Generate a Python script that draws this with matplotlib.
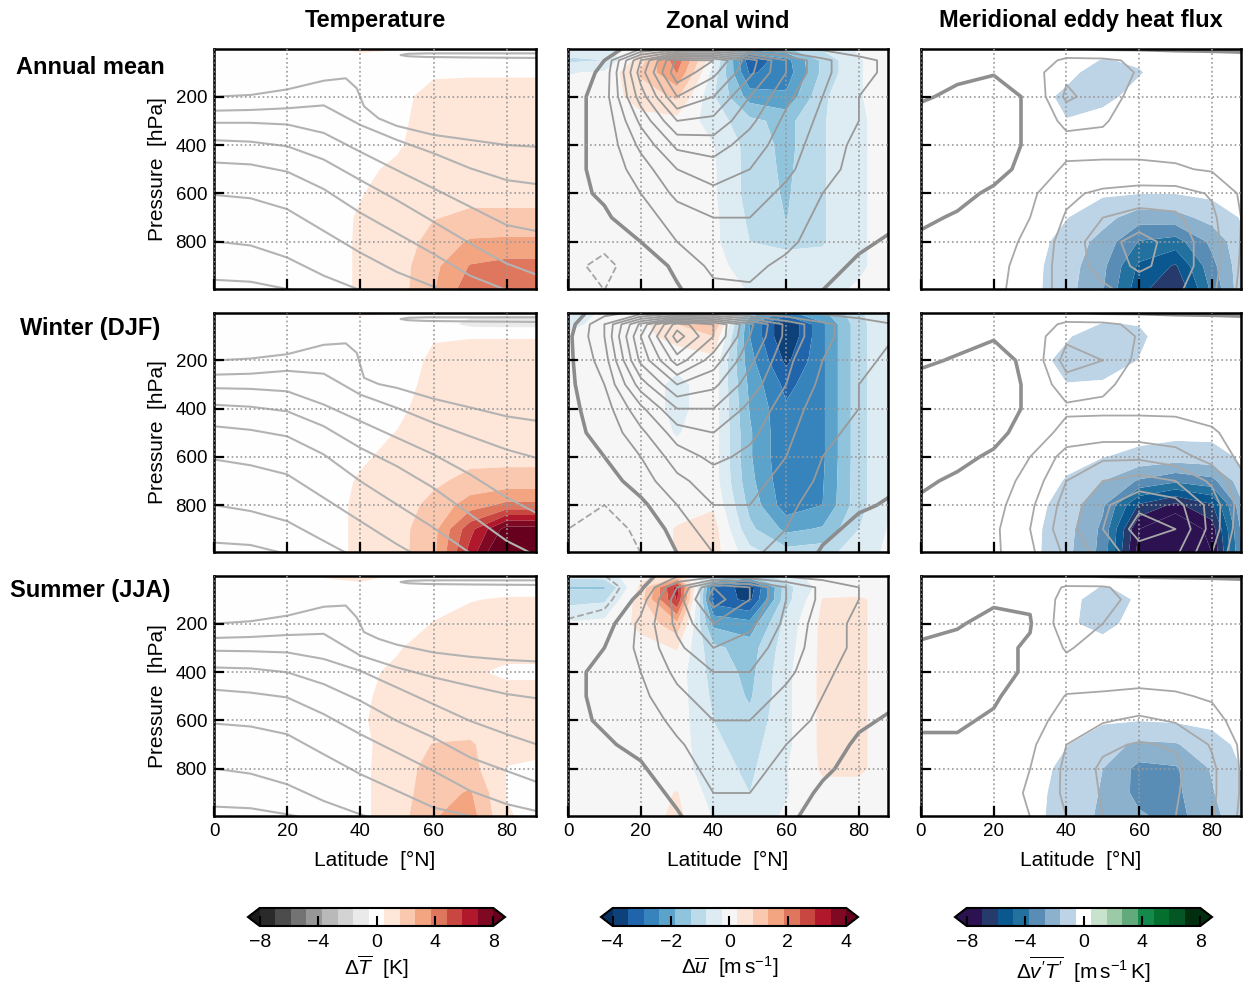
import matplotlib
matplotlib.use("Agg")
import matplotlib.pyplot as plt
import numpy as np
from matplotlib.colors import ListedColormap

plt.rcParams['font.family'] = ['Liberation Sans', 'DejaVu Sans']
plt.rcParams['mathtext.fontset'] = 'custom'
plt.rcParams['mathtext.rm'] = 'Liberation Sans'
plt.rcParams['mathtext.it'] = 'Liberation Sans:italic'

# grid the fields are read on
lat = [0, 10, 20, 30, 40, 50, 60, 70, 80, 90]
plev = [0, 50, 100, 200, 300, 400, 500, 600, 700, 800, 900, 1000]

# ---- temperature anomaly [K] (rows = plev, cols = lat)
T_ANN = [
    [0, 0, 0, 0.3, 0.8, 0.6, 0.2, 0.1, 0.1, 0.1],
    [0, 0, 0, 0, 0.1, 0.2, 0.3, 0.3, 0.3, 0.3],
    [0, 0, 0, 0, 0.1, 0.3, 0.45, 0.45, 0.45, 0.45],
    [0, 0, 0, 0.1, 0.2, 0.35, 0.75, 0.85, 0.85, 0.85],
    [0, 0, 0, 0.1, 0.25, 0.4, 0.8, 0.9, 0.9, 0.9],
    [0, 0, 0, 0.15, 0.3, 0.45, 0.9, 1.0, 1.0, 1.0],
    [0, 0, 0.05, 0.2, 0.4, 0.65, 1.0, 1.1, 1.1, 1.1],
    [0, 0, 0.05, 0.2, 0.5, 0.8, 1.2, 1.3, 1.3, 1.3],
    [0, 0, 0.05, 0.25, 0.6, 0.9, 1.55, 1.8, 1.8, 1.8],
    [0, 0, 0.1, 0.3, 0.6, 1.0, 2.0, 2.8, 2.9, 2.9],
    [0, 0, 0.1, 0.3, 0.6, 1.1, 2.4, 3.8, 4.1, 4.1],
    [0, 0, 0.1, 0.3, 0.6, 1.1, 2.6, 4.4, 4.9, 4.7],
]
T_DJF = [
    [0, 0, 0, 0.2, 0.7, 0.6, 0.1, -0.3, -0.4, -0.4],
    [0, 0, 0, 0, 0.1, 0.1, 0, -0.8, -0.9, -0.9],
    [0, 0, 0, 0, 0.1, 0.25, 0.5, 0.5, 0.5, 0.5],
    [0, 0, 0, 0.1, 0.2, 0.3, 0.62, 0.8, 0.8, 0.8],
    [0, 0, 0, 0.1, 0.2, 0.35, 0.68, 0.85, 0.85, 0.85],
    [0, 0, 0, 0.1, 0.25, 0.4, 0.8, 0.95, 0.95, 0.95],
    [0, 0, 0, 0.15, 0.35, 0.55, 0.9, 1.05, 1.05, 1.05],
    [0, 0, 0.05, 0.2, 0.45, 0.7, 1.05, 1.3, 1.3, 1.3],
    [0, 0, 0.05, 0.25, 0.6, 0.9, 1.4, 1.9, 2.0, 2.0],
    [0, 0, 0.1, 0.3, 0.65, 1.1, 1.9, 3.2, 4.0, 4.0],
    [0, 0, 0.1, 0.3, 0.65, 1.2, 2.3, 5.5, 8.5, 8.5],
    [0, 0, 0.1, 0.3, 0.65, 1.2, 2.4, 6.3, 10, 10],
]
T_JJA = [
    [0, 0, 0, 0.6, 0.7, 0.5, 0.1, 0, 0, 0],
    [0, 0, 0, 0.3, 0.4, 0.2, 0.1, 0.2, 0.3, 0.3],
    [0, 0, 0, 0.1, 0.1, 0.2, 0.4, 0.5, 0.6, 0.6],
    [0, 0, 0, 0.1, 0.2, 0.35, 0.55, 0.75, 0.8, 0.8],
    [0, 0, 0, 0.15, 0.3, 0.5, 0.7, 0.8, 0.7, 0.7],
    [0, 0, 0, 0.2, 0.45, 0.6, 0.75, 0.6, 0.45, 0.45],
    [0, 0, 0.05, 0.25, 0.45, 0.7, 0.8, 0.8, 0.7, 0.7],
    [0, 0, 0.05, 0.25, 0.45, 0.85, 1.0, 1.0, 0.8, 0.8],
    [0, 0, 0.05, 0.25, 0.3, 1.0, 1.65, 1.75, 0.8, 0.7],
    [0, 0, 0.05, 0.25, 0.3, 1.1, 2.0, 2.0, 0.5, 0.4],
    [0, 0, 0.05, 0.25, 0.3, 1.1, 2.2, 2.8, 0.5, 0.3],
    [0, 0, 0.05, 0.25, 0.3, 1.1, 2.6, 3.2, 0.6, 0.3],
]

# ---- climatological temperature contours, pressure read along latitude
tl_lat = [0, 10, 20, 30, 40, 50, 60, 70, 80, 88]
kink_lat = [0, 10, 20, 30, 36, 39, 41, 45, 50, 60, 70, 80, 88]
loop_lat = [88, 70, 58, 53, 51, 53, 58, 70, 88]
loop_p = [21, 21, 21, 23, 28, 33, 36, 38, 40]

TL_ANN_TOP = [200, 193, 170, 134, 124, 165, 240, 290, 321, 358, 379, 400, 407]
TL_ANN = [
    [258, 255, 248, 236, 317, 379, 434, 496, 545, 561],
    [308, 308, 315, 350, 428, 504, 579, 655, 731, 755],
    [380, 386, 405, 460, 545, 628, 717, 807, 890, 935],
    [472, 480, 510, 582, 680, 765, 850, 940, 1000, 1030],
    [606, 620, 665, 755, 845, 925, 985, 1040, 1100, 1150],
    [798, 815, 865, 940, 1000, 1050, 1100, 1150, 1200, 1250],
    [957, 965, 995, 1030, 1070, 1110, 1150, 1190, 1230, 1270],
]
TL_DJF_TOP = [200, 192, 174, 135, 129, 168, 272, 298, 314, 359, 395, 432, 450]
TL_DJF = [
    [259, 255, 243, 255, 342, 397, 459, 515, 570, 604],
    [315, 318, 328, 383, 452, 521, 590, 673, 769, 832],
    [384, 392, 411, 473, 563, 639, 729, 839, 949, 1010],
    [473, 488, 515, 590, 701, 798, 894, 1000, 1080, 1150],
    [611, 635, 673, 770, 867, 963, 1050, 1130, 1200, 1260],
    [800, 825, 867, 949, 1030, 1100, 1160, 1220, 1280, 1330],
    [956, 966, 1004, 1050, 1090, 1130, 1170, 1210, 1250, 1290],
]
TL_JJA_TOP = [200, 190, 167, 130, 125, 174, 235, 263, 287, 319, 337, 350, 356]
TL_JJA = [
    [259, 255, 247, 242, 332, 381, 422, 457, 491, 508],
    [312, 314, 319, 346, 395, 464, 533, 602, 657, 698],
    [381, 385, 401, 450, 519, 602, 671, 753, 809, 853],
    [473, 485, 505, 574, 657, 733, 809, 891, 946, 974],
    [613, 625, 657, 740, 822, 891, 960, 995, 1040, 1080],
    [799, 820, 864, 933, 988, 1040, 1090, 1140, 1190, 1240],
    [956, 963, 988, 1020, 1060, 1100, 1140, 1180, 1220, 1260],
]

# ---- zonal wind anomaly [m/s]
U_ANN = [
    [-0.5, -0.4, 0.1, 0.4, -0.3, -1.6, -1.4, -0.7, -0.2, 0],
    [-0.9, -0.8, 0.6, 2.2, -0.2, -3.3, -2.6, -1.2, -0.3, 0],
    [-0.3, -0.2, 0.9, 1.9, -0.5, -3.0, -2.7, -1.2, -0.3, 0],
    [0, 0, 0.5, 0.9, -0.75, -2.1, -2.3, -0.9, -0.3, 0],
    [0, 0, 0.1, 0.1, -0.5, -1.2, -1.5, -0.85, -0.35, 0],
    [0, 0, 0, 0, -0.25, -1.0, -1.5, -0.85, -0.35, 0],
    [0, 0, 0, 0, -0.2, -1.0, -1.45, -0.85, -0.35, 0],
    [0, 0, 0, 0, -0.2, -1.0, -1.4, -0.85, -0.35, 0],
    [0, 0, 0, 0, -0.15, -0.9, -1.35, -0.85, -0.35, 0],
    [0, 0, 0, 0, -0.15, -0.8, -0.9, -0.85, -0.35, 0],
    [0, 0, 0, 0, -0.1, -0.5, -0.6, -0.6, -0.35, 0],
    [0, 0, 0, 0, 0, -0.3, -0.4, -0.4, -0.2, 0],
]
U_DJF = [
    [-0.5, -0.2, 0, 0.1, 0.2, -1.5, -2.5, -2.0, -0.9, -0.2],
    [-0.4, -0.1, 0.1, 0.8, 1.4, -2.4, -4.0, -2.5, -1.0, -0.1],
    [-0.2, 0, 0.1, 0.5, 0.8, -2.4, -4.0, -2.5, -1.0, -0.1],
    [0, 0, 0, -0.1, 0.1, -2.2, -3.6, -2.5, -1.0, -0.1],
    [0, 0, 0, -0.4, 0, -2.0, -3.1, -2.5, -1.0, -0.1],
    [0, 0, 0, -0.4, 0, -1.9, -2.85, -2.5, -1.0, -0.1],
    [0, 0, 0, -0.3, 0, -1.8, -2.85, -2.5, -1.0, -0.1],
    [0, 0, 0, -0.1, 0, -1.8, -2.85, -2.5, -1.0, -0.1],
    [0, 0, 0, 0, 0, -1.7, -2.8, -2.45, -1.0, -0.1],
    [0, 0, 0, 0.1, 0.2, -1.5, -2.7, -2.4, -1.0, -0.1],
    [0, 0, 0, 0.3, 0.5, -1.2, -2.0, -1.8, -0.8, -0.1],
    [0, 0, 0, 0.3, 0.5, -0.6, -1.1, -1.0, -0.5, -0.1],
]
U_JJA = [
    [-0.6, -0.5, 0.1, 0.5, -0.6, -1.2, -0.5, 0, 0, 0],
    [-1.4, -1.4, 0.4, 3.2, -3.0, -3.8, -1.0, 0, 0, 0],
    [-1.0, -0.9, 0.6, 3.0, -3.2, -3.6, -1.0, 0.3, 0.35, 0],
    [-0.2, -0.1, 0.4, 1.2, -2.0, -2.2, -0.6, 0.4, 0.35, 0],
    [0, 0, 0.1, 0.3, -1.2, -1.6, -0.5, 0.4, 0.35, 0],
    [0, 0, 0, 0, -1.0, -1.5, -0.4, 0.4, 0.35, 0],
    [0, 0, 0, 0, -0.9, -1.4, -0.4, 0.4, 0.35, 0],
    [0, 0, 0, 0, -0.8, -1.2, -0.4, 0.4, 0.35, 0],
    [0, 0, 0, 0, -0.7, -1.0, -0.4, 0.4, 0.35, 0],
    [0, 0, 0, 0, -0.6, -0.9, -0.3, 0.35, 0.35, 0],
    [0, 0, 0, 0.3, -0.5, -0.8, -0.3, 0.1, 0.1, 0],
    [0, 0, 0, 0.4, -0.3, -0.5, -0.2, 0, 0, 0],
]

# ---- climatological zonal wind [m/s]
UC_ANN = [
    [-5, -3, 3, 8, 8, 6, 4, 3, 2, 2],
    [-4, 0, 20, 37, 36, 26, 16, 9, 5, 3],
    [-3, 1, 22, 39, 33, 25, 16, 9, 5, 3],
    [-2, 2, 18, 32, 28, 20, 13, 8, 4, 3],
    [-1, 1, 13, 24, 23, 17, 11, 7, 4, 2],
    [-1, 1, 9, 17, 18, 14, 10, 6, 3, 2],
    [-1, 1, 6, 12, 14, 12, 9, 5, 3, 1],
    [-1, 0.5, 4, 9, 11, 10, 7, 4, 2, 1],
    [-2, -0.5, 2, 6, 8, 8, 6, 3, 1, 0.5],
    [-3, -4, 0, 4, 7, 7, 5, 2, 0.5, -0.5],
    [-4, -6, -3, 1, 5, 5, 3, 1, -0.5, -1],
    [-4, -5, -4, -0.5, 3, 3.5, 2, 0, -1, -1],
]
UC_DJF = [
    [-2, 2, 5, 8, 8, 6, 4, 3, 2, 2],
    [-2, 8, 25, 42, 36, 25, 15, 9, 6, 4],
    [-1, 8, 28, 46, 36, 24, 15, 9, 6, 4],
    [-1, 6, 25, 38, 30, 21, 13, 8, 5, 3],
    [-1, 4, 18, 28, 25, 18, 12, 7, 4, 3],
    [-1, 2, 11, 20, 20, 15, 10, 6, 4, 2],
    [-1, 1, 7, 14, 16, 13, 9, 5, 3, 2],
    [-2, 0, 4, 10, 13, 11, 8, 4, 2, 1],
    [-3, -2, 2, 7, 10, 9, 7, 3, 1, 0.5],
    [-4, -5, -1, 4, 8, 8, 5, 2, 0.5, -0.5],
    [-5, -7, -4, 2, 6, 6, 4, 1, -1, -1],
    [-5, -7, -5, 0, 4, 4.5, 3, -0.5, -1.5, -1.5],
]
UC_JJA = [
    [-6, -5, -2, 3, 5, 4, 3, 2, 1, 1],
    [-10, -8, -1, 12, 24, 20, 12, 7, 4, 3],
    [-9, -7, 2, 14, 26, 20, 12, 7, 4, 3],
    [-4, -2, 5, 13, 20, 17, 11, 6, 3, 2],
    [-2, 0, 5, 11, 16, 14, 10, 6, 3, 2],
    [-1, 1, 4, 9, 12, 12, 9, 5, 2, 1],
    [-1, 1, 3, 7, 10, 10, 7, 4, 1.5, 0.5],
    [-1, 0.5, 2, 5, 8, 8, 6, 3, 0.5, -0.5],
    [-2, -0.5, 1, 3.5, 6, 6.5, 4, 1.5, -0.5, -1],
    [-2, -2, -0.5, 2.5, 5, 5, 3, 0.5, -1, -1],
    [-2, -3, -2, 1, 4, 4, 1.5, -0.5, -1, -1],
    [-2, -3, -2.5, -0.5, 3, 3, 0.5, -1, -1, -1],
]

# ---- eddy heat flux anomaly [m/s K]
VT_ANN = [
    [0, 0, 0, 0, 0, 0, 0, 0, 0, 0],
    [0, 0, 0, 0, 0, -0.6, -0.4, 0, 0, 0],
    [0, 0, 0, 0, -0.2, -1.1, -0.6, 0, 0, 0],
    [0, 0, 0, 0, -0.8, -0.8, -0.2, 0, 0, 0],
    [0, 0, 0, 0, -0.5, -0.2, 0, 0, 0, 0],
    [0, 0, 0, 0, 0, 0, 0, 0, 0, 0],
    [0, 0, 0, 0, 0, -0.1, -0.1, -0.1, -0.1, 0],
    [0, 0, 0, 0, -0.2, -0.4, -0.5, -0.5, -0.3, -0.1],
    [0, 0, 0, -0.1, -0.5, -1.2, -2.2, -2.0, -1.2, -0.3],
    [0, 0, 0, -0.1, -0.9, -2.0, -3.8, -4.2, -2.4, -0.5],
    [0, 0, 0, -0.2, -1.1, -2.4, -5.0, -6.0, -3.0, -0.5],
    [0, 0, 0, -0.2, -1.2, -2.6, -5.5, -7.0, -3.5, -0.4],
]
VT_DJF = [
    [0, 0, 0, 0, 0, 0, 0, 0, 0, 0],
    [0, 0, 0, 0, 0, -0.6, -0.5, 0, 0, 0],
    [0, 0, 0, 0, -0.4, -1.3, -0.7, 0, 0, 0],
    [0, 0, 0, 0, -0.9, -1.1, -0.5, 0, 0, 0],
    [0, 0, 0, 0, -0.5, -0.4, 0, 0, 0, 0],
    [0, 0, 0, 0, 0, 0, 0, 0, 0, 0],
    [0, 0, 0, 0, 0, -0.1, -0.2, -0.3, -0.3, -0.1],
    [0, 0, 0, 0, -0.3, -0.5, -0.8, -1.0, -0.9, -0.3],
    [0, 0, 0, 0, -0.6, -1.6, -2.8, -3.5, -3.0, -0.6],
    [0, 0, 0, -0.1, -1.0, -2.5, -6.0, -7.2, -6.0, -1.0],
    [0, 0, 0, -0.2, -1.2, -2.9, -8.0, -9.5, -7.5, -1.3],
    [0, 0, 0, -0.2, -1.3, -3.0, -8.5, -10, -8.0, -1.5],
]
VT_JJA = [
    [0, 0, 0, 0, 0, 0, 0, 0, 0, 0],
    [0, 0, 0, 0, 0, -0.6, -0.3, 0, 0, 0],
    [0, 0, 0, 0, -0.2, -1.0, -0.4, 0, 0, 0],
    [0, 0, 0, 0, -0.4, -0.8, -0.2, 0, 0, 0],
    [0, 0, 0, 0, 0, -0.2, 0, 0, 0, 0],
    [0, 0, 0, 0, 0, 0, 0, 0, 0, 0],
    [0, 0, 0, 0, 0, 0, 0, 0, 0, 0],
    [0, 0, 0, 0, -0.2, -0.4, -0.5, -0.4, -0.3, 0],
    [0, 0, 0, 0, -0.5, -1.2, -1.8, -1.7, -0.9, -0.2],
    [0, 0, 0, -0.1, -0.8, -1.6, -3.0, -2.8, -1.5, -0.3],
    [0, 0, 0, -0.2, -0.9, -1.7, -3.0, -2.9, -1.7, -0.3],
    [0, 0, 0, -0.2, -1.0, -1.8, -2.5, -3.0, -2.0, -0.5],
]

# ---- climatological eddy heat flux [m/s K]
VTC_ANN = [
    [1, 1, 1, 1, 1, -0.5, -0.5, -0.5, -0.5, -0.5],
    [1, 1, 1, 2, 6, 6, 4, 2, 1.5, 1],
    [1, 0.5, 0.2, 2.5, 9, 8, 4.5, 2, 1.5, 1],
    [0.3, -0.5, -1.5, 0.5, 11, 7.5, 3, 1.5, 1, 1],
    [-1, -1, -1.5, 0.5, 6.5, 5.5, 2.5, 2, 1.5, 1],
    [-1, -1, -1.5, 0.5, 3, 3.5, 3.5, 3.5, 3, 2],
    [-1, -1, -1, 1, 6, 6, 6, 5.5, 4.5, 2],
    [-1, -0.8, 0.5, 4, 9, 11, 12, 12, 9.5, 3],
    [-0.5, 0.3, 2, 5, 10.5, 15, 17, 16, 11, 3.5],
    [0.5, 1, 3, 6, 12, 18, 22, 18, 12, 3],
    [1, 1, 3.5, 7, 12, 17, 21, 18, 12, 2.5],
    [1, 1, 4, 7, 12, 14, 17, 16, 11, 2],
]
VTC_DJF = [
    [1, 1, 1, 1, 1, -0.5, -0.5, -0.5, -0.5, -0.5],
    [1, 1, 1, 2, 6, 6, 4, 2, 1.5, 1],
    [1, 1, 0.3, 2, 9, 9, 4.5, 2, 1.5, 1],
    [0.5, -0.3, -1.5, 1, 12, 10, 3.5, 2, 1.5, 1],
    [-1, -1, -1.5, 0.5, 8, 6, 3, 2, 2, 1.5],
    [-1, -1, -1.5, 0.5, 4, 4, 4, 4, 3.5, 2],
    [-1, -1, -1, 1.5, 7, 7.5, 7.5, 7, 5.5, 3],
    [-1, -0.8, 0.5, 5, 12, 14, 14, 12, 8, 3],
    [-0.5, 0.5, 2, 7, 15, 20, 22, 20, 14, 5],
    [0.5, 1, 3, 9, 17, 24, 29, 27, 18, 5],
    [1, 1, 4, 10, 18, 25, 32, 30, 18, 4],
    [1, 1, 4, 9, 16, 22, 28, 26, 15, 3],
]
VTC_JJA = [
    [1, 1, 1, 1, 1, -0.5, -0.5, -0.5, -0.5, -0.5],
    [1, 1, 1, 2, 5.5, 5.5, 3, 2, 1.5, 1],
    [1, 1, 0.5, 0.5, 7, 7, 3, 2, 1.5, 1],
    [1, 0.3, -1, -0.3, 8, 5, 2, 1.5, 1, 1],
    [-0.5, -1, -1, 0.5, 5.5, 3, 2, 1.5, 1, 1],
    [-1, -1, -1, 0.5, 3, 3, 3, 3, 2.5, 1.5],
    [-1, -1, -0.5, 2, 5.2, 5.5, 6, 5.5, 4.5, 2],
    [-0.5, -0.5, 0.5, 3, 7, 9.5, 11, 9.5, 6.5, 2.5],
    [0.5, 0.5, 2, 4, 10, 14, 15.5, 14.5, 9.5, 3],
    [1, 1, 2.5, 5, 11, 16, 17, 16, 11, 3],
    [1, 1, 3, 5.5, 11, 15.5, 16.5, 15.5, 11, 3],
    [1, 1, 3, 5, 10, 15, 15.5, 15, 10.5, 2.5],
]

row_titles = ['Annual mean', 'Winter (DJF)', 'Summer (JJA)']
col_titles = ['Temperature', 'Zonal wind', 'Meridional eddy heat flux']
cb_labels = [r'$\Delta\overline{T}$  [K]',
             r'$\Delta\overline{u}$  [m$\,$s$^{-1}$]',
             r"$\Delta\overline{v'T'}$  [m$\,$s$^{-1}\,$K]"]

hf_colors = ['#2c1250', '#263a6c', '#0b5890', '#22719f', '#5a8db6', '#8bb1cd',
             '#bdd3e6', '#ffffff', '#c7e2cd', '#9ccaa6', '#63aa7b', '#13894b',
             '#056f2f', '#045724', '#022e10']
hf_cmap = ListedColormap(hf_colors)
hf_cmap.set_under(hf_colors[0])
hf_cmap.set_over(hf_colors[-1])

t_levels = np.linspace(-8, 8, 16)
u_levels = np.linspace(-4, 4, 16)

fills = [[T_ANN, U_ANN, VT_ANN], [T_DJF, U_DJF, VT_DJF], [T_JJA, U_JJA, VT_JJA]]
uclim = [UC_ANN, UC_DJF, UC_JJA]
vclim = [VTC_ANN, VTC_DJF, VTC_JJA]
tlines = [(TL_ANN_TOP, TL_ANN), (TL_DJF_TOP, TL_DJF), (TL_JJA_TOP, TL_JJA)]
cmaps = ['RdGy_r', 'RdBu_r', hf_cmap]
levels = [t_levels, u_levels, t_levels]

W, H = 1243, 988
fig = plt.figure(figsize=(W / 100, H / 100), dpi=100)
lefts = [214, 568, 921]
widths = [322, 320, 320]
tops = [49, 313, 576]
heights = [240, 239, 240]

sets = [None, None, None]
for r in range(3):
    for c in range(3):
        ax = fig.add_axes([lefts[c] / W, 1 - (tops[r] + heights[r]) / H,
                           widths[c] / W, heights[r] / H])
        cf = ax.contourf(lat, plev, np.array(fills[r][c]), levels=levels[c],
                         cmap=cmaps[c], extend='both', antialiased=True)
        if r == 0:
            sets[c] = cf
        if c == 0:
            top, others = tlines[r]
            ax.plot(kink_lat, top, color='#b3b3b3', lw=1.5)
            for pl in others:
                ax.plot(tl_lat, pl, color='#b3b3b3', lw=1.5)
            ax.plot(loop_lat, loop_p, color='#b3b3b3', lw=1.5)
        elif c == 1:
            uc = np.array(uclim[r])
            ax.contour(lat, plev, uc, levels=np.arange(4, 48, 4),
                       colors='#999999', linewidths=1.3)
            ax.contour(lat, plev, uc, levels=[0], colors='#8c8c8c',
                       linewidths=2.6)
            ax.contour(lat, plev, uc, levels=[-10, -5], colors='#a5a5a5',
                       linewidths=1.3, linestyles='--')
        else:
            vc = np.array(vclim[r])
            ax.contour(lat, plev, vc, levels=np.arange(5, 35, 5),
                       colors='#a8a8a8', linewidths=1.3)
            ax.contour(lat, plev, vc, levels=[0], colors='#8f8f8f',
                       linewidths=2.6)
        ax.set_xlim(0, 88)
        ax.set_ylim(995, 3)
        ax.set_xticks([0, 20, 40, 60, 80])
        ax.set_yticks([200, 400, 600, 800])
        ax.set_axisbelow(False)
        ax.grid(True, ls=':', color='#999999', lw=1.2)
        ax.tick_params(direction='in', length=7, width=1.6, labelsize=13.5,
                       pad=5)
        for s in ax.spines.values():
            s.set_linewidth(1.8)
        if r < 2:
            ax.tick_params(labelbottom=False)
        else:
            ax.set_xlabel('Latitude  [°N]', fontsize=15, labelpad=8)
        if c > 0:
            ax.tick_params(labelleft=False)
        else:
            ax.set_ylabel('Pressure  [hPa]', fontsize=15, labelpad=6)

for c in range(3):
    fig.text((lefts[c] + widths[c] / 2) / W, 1 - 21 / H, col_titles[c],
             fontsize=17, fontweight='bold', ha='center', va='center')
row_y = [67, 329, 590]
for r in range(3):
    fig.text(90 / W, 1 - row_y[r] / H, row_titles[r], fontsize=17,
             fontweight='bold', ha='center', va='center')

cb_lefts = [248, 601, 955]
cb_ticks = [[-8, -4, 0, 4, 8], [-4, -2, 0, 2, 4], [-8, -4, 0, 4, 8]]
for c in range(3):
    cax = fig.add_axes([cb_lefts[c] / W, 1 - 926 / H, 257 / W, 18 / H])
    cb = fig.colorbar(sets[c], cax=cax, orientation='horizontal',
                      ticks=cb_ticks[c])
    cb.ax.tick_params(direction='in', length=7, width=1.5, labelsize=14,
                      pad=6)
    cb.outline.set_linewidth(1.5)
    cb.set_label(cb_labels[c], fontsize=15, labelpad=2)

fig.savefig('out.png', dpi=100)
